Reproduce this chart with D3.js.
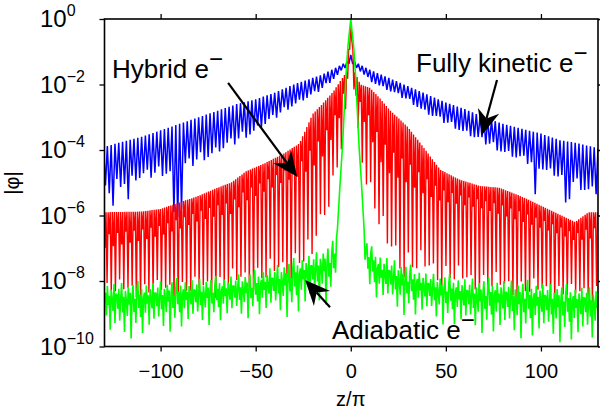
<!DOCTYPE html>
<html>
<head>
<meta charset="utf-8">
<script src="https://d3js.org/d3.v7.min.js"></script>
<style>
  body { margin: 0; background: #fff; }
  text { font-family: "Liberation Sans", Arial, sans-serif; fill: #000; }
</style>
</head>
<body>
<script>
// values are log10 |phi|, at knots in z/pi
var zTicks = [-100, -50, 0, 50, 100];
var yExps = [0, -2, -4, -6, -8, -10];

// fully kinetic (blue): crest and trough envelopes
var blueZ   = [-129.5,-120,-110,-100,-90,-80,-70,-60,-50,-40,-30,-20,-15,-10,-5,-2,0,2,5,10,20,30,40,50,60,70,80,90,100,110,120,130];
var blueTop = [-3.9,-3.75,-3.6,-3.4,-3.2,-3.0,-2.8,-2.6,-2.45,-2.25,-2.0,-1.8,-1.7,-1.55,-1.4,-1.3,-1.1,-1.3,-1.4,-1.55,-1.8,-2.05,-2.3,-2.55,-2.75,-3.0,-3.2,-3.35,-3.5,-3.7,-3.8,-3.95];
var blueBot = [-5.4,-5.1,-4.9,-4.8,-4.7,-4.4,-4.1,-3.8,-3.45,-3.05,-2.65,-2.35,-2.15,-1.9,-1.6,-1.45,-1.3,-1.5,-1.6,-1.9,-2.2,-2.5,-2.9,-3.2,-3.5,-3.8,-4.1,-4.35,-4.6,-4.9,-5.2,-5.4];
var blueTroughPat = [1, 0.86, 0.97, 0.8, 0.93, 1, 0.84, 0.9, 0.98, 0.78, 0.95];
var blueDipZ = [-125, -117, -93, -91, -89, 97, 113, 115];
var blueDipV = [-5.7, -5.5, -5.9, -6.05, -5.8, -5.35, -5.6, -5.5];
var bluePeriod = 2;

// hybrid (red): crest, dense band bottom, deep spikes
var redZ     = [-129.5,-110,-100,-90,-80,-70,-63,-55,-45,-35,-27,-20,-15,-9,-5,-2,0,2,5,10,15,20,30,38,47,57,68,78,89,99,110,118,125,130];
var redTop   = [-5.9,-5.88,-5.8,-5.6,-5.4,-5.15,-5.0,-4.65,-4.4,-4.1,-3.8,-2.9,-2.6,-2.2,-1.85,-1.6,-0.1,-1.6,-2.0,-2.1,-2.4,-2.75,-3.3,-3.9,-4.6,-4.9,-5.1,-5.15,-5.4,-5.67,-5.98,-6.2,-5.9,-5.9];
var redBand  = [-7.05,-6.8,-6.65,-6.45,-6.2,-6.05,-6.0,-5.6,-5.3,-5.0,-4.85,-4.6,-4.3,-3.6,-2.9,-2.2,-0.2,-2.2,-2.9,-3.6,-4.4,-4.8,-5.1,-5.4,-5.6,-5.7,-5.8,-6.0,-6.2,-6.4,-6.6,-6.8,-6.75,-6.7];
var redSpike = [-8.3,-8.35,-8.35,-8.3,-8.3,-8.2,-8.1,-8.0,-7.9,-7.7,-7.45,-7.3,-6.0,-5.0,-4.0,-2.6,-0.3,-2.6,-4.0,-5.2,-6.3,-7.1,-7.55,-7.65,-7.8,-8.0,-8.1,-8.2,-8.3,-8.35,-8.4,-8.45,-8.4,-8.4];
var redBandPat = [0.9, 0.6, 1, 0.75, 0.5, 0.95, 0.7, 0.85];
var redSpikePat = [1, 0.9, 1.06, 0.95, 0.85, 1, 1.1, 0.92, 0.97];
var redPeriod = 2.2;

// adiabatic (green): noise top, body, bottom
var greenZ   = [-129.5,-110,-90,-70,-50,-30,-15,-10,-8,-7,-5.5,-4.3,-2.7,-1.6,0,1.6,2.7,4.3,5.5,7,8,10,15,25,40,60,80,100,115,130];
var greenTop = [-8.0,-8.0,-7.9,-7.85,-7.65,-7.3,-7.0,-6.8,-6.7,-6.4,-4.9,-3.85,-1.9,-0.9,0,-0.9,-1.9,-3.85,-4.9,-6.4,-6.7,-6.9,-7.1,-7.35,-7.7,-7.85,-7.9,-8.0,-8.1,-8.15];
var greenMid = [-8.6,-8.6,-8.5,-8.4,-8.25,-7.95,-7.6,-7.5,-7.3,-6.4,-4.9,-3.85,-1.9,-0.9,0,-0.9,-1.9,-3.85,-4.9,-6.4,-7.2,-7.35,-7.8,-8.0,-8.25,-8.5,-8.55,-8.65,-8.7,-8.7];
var greenBot = [-9.9,-9.7,-9.5,-9.3,-9.1,-9.1,-8.8,-8.6,-8.3,-6.4,-4.9,-3.85,-1.9,-0.9,0,-0.9,-1.9,-3.85,-4.9,-6.4,-8.3,-8.6,-8.6,-9.0,-9.2,-9.5,-9.7,-9.8,-9.9,-10.0];
var greenPat = [0.3,-0.2,0.6,-0.5,0.1,0.9,-0.3,0.2,-0.8,0.5,0.0,-0.4,0.7,-0.1,0.4,-1.0,0.2,0.8,-0.3,0.1,-0.6,0.5,1.0,-0.2,0.3,-0.45,0.6,-0.9,0.15,0.4,-0.35,0.75,-0.1,0.25,-0.7,0.55,0.05,-0.25,0.85,-0.55,0.35];

function mod(a, n) { return ((a % n) + n) % n; }

function draw() {
    var width = 600, height = 418;
    var left = 104.5, right = 598, top = 19, bottom = 346.5;

    var x = d3.scaleLinear().domain([-129.5, 130]).range([left, right]);
    var y = d3.scaleLog().domain([1e-10, 1]).range([bottom, top]);
    var ly = function(v) { return y(Math.pow(10, v)); };

    var svg = d3.select("body").append("svg")
        .attr("width", width)
        .attr("height", height);

    svg.append("clipPath").attr("id", "plot")
      .append("rect")
        .attr("x", left).attr("y", top)
        .attr("width", right - left).attr("height", bottom - top);

    // blue
    var bT = d3.scaleLinear().domain(blueZ).range(blueTop);
    var bB = d3.scaleLinear().domain(blueZ).range(blueBot);
    var blue = [];
    var step = bluePeriod / 2;
    for (var k = -130; k <= 130; k++) {
        var z = k * step;
        var t = bT(z), v;
        if (mod(k, 2) == 0) v = t;
        else {
            v = t + (bB(z) - t) * blueTroughPat[mod(k, blueTroughPat.length)];
            blueDipZ.forEach(function(dz, i) { if (Math.abs(dz - z) <= 1) v = blueDipV[i]; });
        }
        blue.push([z, v]);
    }

    // red
    var rT = d3.scaleLinear().domain(redZ).range(redTop);
    var rB = d3.scaleLinear().domain(redZ).range(redBand);
    var rS = d3.scaleLinear().domain(redZ).range(redSpike);
    var red = [];
    var rstep = redPeriod / 4;
    for (var k = -236; k <= 237; k++) {
        var z = k * rstep;
        var t = rT(z), v;
        var ph = mod(k, 4);
        if (ph == 0 || ph == 2) v = t;
        else if (ph == 1) v = t + (rB(z) - t) * redBandPat[mod(k, redBandPat.length)];
        else v = t + (rS(z) - t) * redSpikePat[mod(k, redSpikePat.length)];
        red.push([z, v]);
    }

    // green
    var gT = d3.scaleLinear().domain(greenZ).range(greenTop);
    var gM = d3.scaleLinear().domain(greenZ).range(greenMid);
    var gB = d3.scaleLinear().domain(greenZ).range(greenBot);
    var green = [];
    for (var k = -259; k <= 260; k++) {
        var z = k * 0.5;
        var p = greenPat[mod(k, greenPat.length)];
        var m = gM(z);
        var v = p >= 0 ? m + p * (gT(z) - m) : m + p * (m - gB(z));
        green.push([z, v]);
    }

    var line = d3.line().x(d => x(d[0])).y(d => ly(d[1]));
    var g = svg.append("g").attr("clip-path", "url(#plot)");
    [[blue, "#0000ff", 1.5], [red, "#ff0000", 1.4], [green, "#00ff00", 1.6]].forEach(function(s) {
        g.append("path")
            .attr("d", line(s[0]))
            .attr("fill", "none")
            .attr("stroke", s[1])
            .attr("stroke-width", s[2])
            .attr("stroke-linejoin", "miter")
            .attr("stroke-miterlimit", 2);
    });

    // axes
    var yTicks = yExps.map(e => Math.pow(10, e));
    svg.append("g").attr("transform", "translate(0," + bottom + ")")
        .call(d3.axisBottom(x).tickValues(zTicks).tickSize(5).tickPadding(12)
            .tickFormat(d => d < 0 ? "\u2212" + Math.abs(d) : d));
    svg.append("g").attr("transform", "translate(0," + top + ")")
        .call(d3.axisTop(x).tickValues(zTicks).tickSize(5).tickFormat(""));
    svg.append("g").attr("transform", "translate(" + left + ",0)")
        .call(d3.axisLeft(y).tickValues(yTicks).tickSize(5).tickFormat(""));
    svg.append("g").attr("transform", "translate(" + right + ",0)")
        .call(d3.axisRight(y).tickValues(yTicks).tickSize(5).tickFormat(""));
    svg.selectAll(".domain").remove();
    svg.selectAll(".tick line").attr("stroke", "#000").attr("stroke-width", 1.3);
    svg.selectAll(".tick text").attr("font-size", 20).attr("font-family", "Liberation Sans, Arial, sans-serif").attr("fill", "#000");

    svg.append("rect")
        .attr("x", left).attr("y", top)
        .attr("width", right - left).attr("height", bottom - top)
        .attr("fill", "none").attr("stroke", "#000").attr("stroke-width", 1.6);

    // y tick labels 10^n
    yExps.forEach(function(e) {
        var t = svg.append("text")
            .attr("x", 40).attr("y", y(Math.pow(10, e)) + 8)
            .attr("font-size", 24);
        t.append("tspan").text("10");
        t.append("tspan").attr("font-size", 16).attr("dy", -11)
            .text(e < 0 ? "\u2212" + Math.abs(e) : e);
    });

    svg.append("text")
        .attr("transform", "translate(19,183) rotate(-90)")
        .attr("text-anchor", "middle")
        .attr("font-size", 20)
        .text("|\u03c6|");
    svg.append("text")
        .attr("x", x(0)).attr("y", 406)
        .attr("text-anchor", "middle")
        .attr("font-size", 20)
        .text("z/\u03c0");

    // annotations, placed in data coordinates
    var notes = [
        {label: "Hybrid e", z: -125.5, v: -1.8, tail: [-64.5, -1.95], tip: [-28.2, -4.82]},
        {label: "Fully kinetic e", z: 34.3, v: -1.62, tail: [76.9, -1.86], tip: [69, -3.54]},
        {label: "Adiabatic e", z: -9.85, v: -9.77, tail: [-10.9, -8.8], tip: [-24, -7.97]}
    ];
    notes.forEach(function(n) {
        var t = svg.append("text")
            .attr("x", x(n.z)).attr("y", ly(n.v))
            .attr("font-size", 26);
        t.append("tspan").text(n.label);
        t.append("tspan").attr("font-size", 24).attr("dy", -11).text("\u2212");

        var x1 = x(n.tail[0]), y1 = ly(n.tail[1]);
        var x2 = x(n.tip[0]), y2 = ly(n.tip[1]);
        var dx = x2 - x1, dy = y2 - y1, len = Math.sqrt(dx * dx + dy * dy);
        var ux = dx / len, uy = dy / len;
        var L = 25, W = 11, N = 17;
        svg.append("line")
            .attr("x1", x1).attr("y1", y1)
            .attr("x2", x2 - ux * N).attr("y2", y2 - uy * N)
            .attr("stroke", "#000").attr("stroke-width", 2.2);
        var bx = x2 - ux * L, by = y2 - uy * L;
        svg.append("path")
            .attr("d", "M" + x2 + "," + y2 +
                "L" + (bx - uy * W) + "," + (by + ux * W) +
                "L" + (x2 - ux * N) + "," + (y2 - uy * N) +
                "L" + (bx + uy * W) + "," + (by - ux * W) + "Z")
            .attr("fill", "#000");
    });
}

draw();
</script>
</body>
</html>
